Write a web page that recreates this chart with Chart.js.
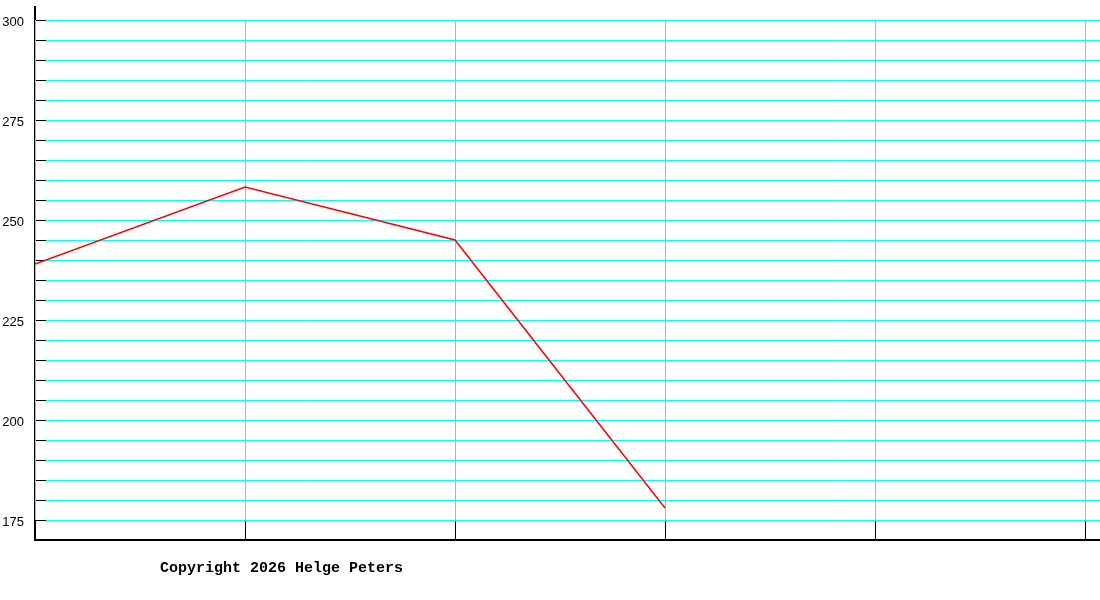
<!DOCTYPE html>
<html>
<head>
<meta charset="utf-8">
<script src="https://cdn.jsdelivr.net/npm/chart.js@4"></script>
<style>
  html, body { margin: 0; padding: 0; background: #fff; }
  #wrap { position: relative; width: 1100px; height: 600px; }
  #copy { position: absolute; left: 160px; top: 560px; font: bold 15px "Liberation Mono", "DejaVu Sans Mono", monospace; color: #000; white-space: pre; }
</style>
</head>
<body>
<div id="wrap">
  <canvas id="c" width="1100" height="600"></canvas>
  <div id="copy">Copyright 2026 Helge Peters</div>
</div>
<script>
// Data
const xPositions = [0, 1, 2, 3];
const seriesValues = [239, 258.25, 245, 178];
const xGridTicks = [0, 1, 2, 3, 4, 5];
const yGridTicks = [175, 180, 185, 190, 195, 200, 205, 210, 215, 220, 225, 230, 235, 240, 245, 250, 255, 260, 265, 270, 275, 280, 285, 290, 295, 300];
const yLabelTicks = [175, 200, 225, 250, 275, 300];
const yMin = 170, yMax = 303.25;
const xMin = 0, xMax = 5.0714;

const gridPlugin = {
  id: 'customGrid',
  beforeDatasetsDraw(chart) {
    const ctx = chart.ctx;
    const xs = chart.scales.x, ys = chart.scales.y;
    const area = chart.chartArea;
    const topY = ys.getPixelForValue(yGridTicks[yGridTicks.length - 1]);
    const botY = ys.getPixelForValue(yGridTicks[0]);
    ctx.save();
    ctx.lineWidth = 1;
    yGridTicks.forEach(v => {
      const y = Math.round(ys.getPixelForValue(v)) + 0.5;
      ctx.strokeStyle = '#000';
      ctx.beginPath(); ctx.moveTo(area.left, y); ctx.lineTo(area.left + 11, y); ctx.stroke();
      ctx.strokeStyle = '#00ffff';
      ctx.beginPath(); ctx.moveTo(area.left + 11, y); ctx.lineTo(area.right, y); ctx.stroke();
    });
    xGridTicks.forEach(v => {
      const x = Math.round(xs.getPixelForValue(v)) + 0.5;
      ctx.strokeStyle = '#00ffff';
      ctx.beginPath(); ctx.moveTo(x, Math.round(topY)); ctx.lineTo(x, Math.round(botY)); ctx.stroke();
      ctx.strokeStyle = '#000';
      ctx.beginPath(); ctx.moveTo(x, Math.round(botY) + 1); ctx.lineTo(x, area.bottom); ctx.stroke();
    });
    ctx.restore();
  }
};

new Chart(document.getElementById('c'), {
  type: 'line',
  data: {
    datasets: [{
      data: xPositions.map((x, i) => ({ x: x, y: seriesValues[i] })),
      borderColor: '#ff0000',
      borderWidth: 1.5,
      pointRadius: 0,
      tension: 0,
      fill: false
    }]
  },
  options: {
    responsive: false,
    animation: false,
    devicePixelRatio: 1,
    layout: { padding: { top: 7, right: 0, left: 0, bottom: 0 } },
    plugins: { legend: { display: false }, tooltip: { enabled: false } },
    scales: {
      x: {
        type: 'linear',
        min: xMin, max: xMax,
        afterBuildTicks(scale) { scale.ticks = xGridTicks.map(v => ({ value: v })); },
        afterFit(scale) { scale.height = 60; scale.paddingLeft = 0; scale.paddingRight = 0; },
        grid: { display: false, drawTicks: false },
        border: { display: true, color: '#000', width: 2 },
        ticks: { display: false }
      },
      y: {
        type: 'linear',
        min: yMin, max: yMax,
        afterBuildTicks(scale) { scale.ticks = yLabelTicks.map(v => ({ value: v })); },
        afterFit(scale) { scale.width = 35; scale.paddingTop = 0; scale.paddingBottom = 0; },
        grid: { display: false, drawTicks: false },
        border: { display: true, color: '#000', width: 2 },
        ticks: {
          padding: 11,
          color: '#000',
          font: { family: 'Liberation Sans', size: 13, lineHeight: '5px' },
          callback: v => ['', String(v)]
        }
      }
    }
  },
  plugins: [gridPlugin]
});
</script>
</body>
</html>
